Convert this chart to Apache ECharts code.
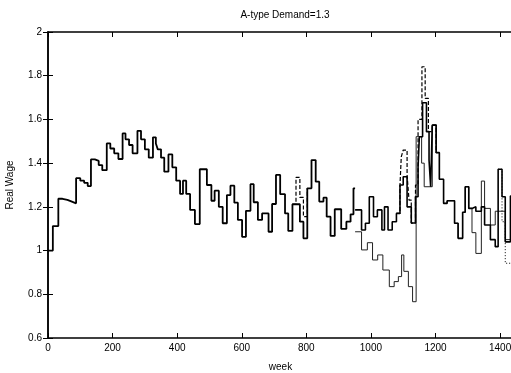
<!DOCTYPE html>
<html>
<head>
<meta charset="utf-8">
<script src="https://cdn.jsdelivr.net/npm/echarts@6/dist/echarts.min.js"></script>
<style>html,body{margin:0;padding:0;background:#fff}#chart{width:511px;height:373px}</style>
</head>
<body>
<div id="chart"></div>
<script>
// common path (all runs overlap), step value starts at given week
const weeksCommon = [0,15,32,45,60,72,87,100,112,123,133,145,157,168,182,193,205,218,231,240,251,262,277,288,300,312,325,334,340,350,360,373,385,397,409,418,428,440,455,470,492,506,516,529,541,554,565,577,588,601,613,627,637,650,663,683,694,706,719,734,744,757,780,791,803,816,829,840,853,863,875,888,908,924,937,946,951]
const wageCommon  = [1.0,1.112,1.237,1.232,1.225,1.216,1.331,1.32,1.31,1.295,1.417,1.41,1.391,1.368,1.49,1.467,1.445,1.419,1.536,1.509,1.483,1.445,1.548,1.509,1.463,1.425,1.518,1.49,1.463,1.425,1.361,1.44,1.381,1.32,1.259,1.32,1.259,1.186,1.121,1.372,1.30,1.228,1.274,1.20,1.125,1.254,1.297,1.219,1.14,1.063,1.182,1.304,1.221,1.14,1.17,1.086,1.213,1.346,1.258,1.17,1.09,1.212,1.132,1.056,1.285,1.414,1.315,1.224,1.242,1.155,1.067,1.189,1.099,1.132,1.166,1.285,1.285]

// short dashed excursion
const weeksDashEarly = [757,768,780,791,803]
const wageDashEarly  = [1.212,1.335,1.243,1.155,1.285]

// tails after the runs split
const weeksThick = [951,971,983,995,1008,1020,1034,1042,1053,1066,1079,1090,1100,1112,1125,1138,1146,1150,1160,1172,1180,1185,1190,1202,1212,1225,1236,1259,1270,1284,1292,1303,1313,1325,1342,1352,1370,1385,1394,1406,1416,1432,1440]
const wageThick  = [1.186,1.094,1.125,1.246,1.155,1.186,1.094,1.20,1.094,1.132,1.17,1.30,1.338,1.20,1.126,1.246,1.384,1.521,1.676,1.544,1.414,1.292,1.574,1.448,1.326,1.216,1.228,1.125,1.056,1.175,1.292,1.193,1.20,1.18,1.20,1.117,1.05,1.018,1.372,1.246,1.04,1.25,1.25]

const weeksThin = [951,971,989,1005,1021,1037,1057,1072,1085,1095,1102,1116,1129,1140,1157,1165,1180,1190,1202,1212,1225,1236,1259,1270,1284,1292,1303,1313,1325,1342,1352,1370,1385,1406,1416,1440]
const wageThin  = [1.086,1.003,1.036,0.957,0.98,0.911,0.835,0.858,0.881,0.98,0.905,0.835,0.766,1.521,1.40,1.292,1.292,1.574,1.448,1.326,1.216,1.228,1.125,1.056,1.175,1.292,1.193,1.082,0.987,1.318,1.193,1.117,1.18,1.18,1.05,1.05]

const weeksDash = [1079,1090,1094,1100,1112,1118,1125,1138,1146,1158,1168,1178,1190,1202]
const wageDash  = [1.17,1.30,1.429,1.46,1.346,1.231,1.126,1.30,1.60,1.841,1.696,1.544,1.574,1.448]

const weeksDot = [1394,1406,1416,1440]
const wageDot  = [1.372,1.132,0.942,0.942]

const pairs = (w, v) => w.map((x, i) => [x, v[i]])
const font = 'Liberation Sans, Arial, sans-serif'

const chart = echarts.init(document.getElementById('chart'), null, {renderer: 'canvas'})
const xBase = {
  type: 'value', min: 0, max: 1440, interval: 200,
  axisLine: {lineStyle: {color: '#000', width: 1.5}},
  axisTick: {inside: true, length: 5, lineStyle: {color: '#000'}},
  splitLine: {show: false}
}
const yBase = {
  type: 'value', min: 0.6, max: 2, interval: 0.2,
  axisLine: {show: true, lineStyle: {color: '#000', width: 1.5}},
  axisTick: {show: true, inside: true, length: 5, lineStyle: {color: '#000'}},
  splitLine: {show: false}
}
const line = (data, style, z) => ({
  type: 'line', step: 'end', data, showSymbol: false, animation: false, z,
  lineStyle: style
})

chart.setOption({
  animation: false,
  title: {
    text: 'A-type Demand=1.3', left: 280, top: 5, textAlign: 'center',
    textStyle: {fontFamily: font, fontSize: 10, fontWeight: 'normal', color: '#000'}
  },
  grid: {left: 48, top: 32, width: 465, height: 306, outerBoundsMode: 'none', containLabel: false},
  xAxis: [
    Object.assign({}, xBase, {
      position: 'bottom',
      name: 'week', nameLocation: 'middle', nameGap: 24,
      nameTextStyle: {fontFamily: font, fontSize: 10, color: '#000'},
      axisLabel: {fontFamily: font, fontSize: 10, color: '#000', margin: 5, showMaxLabel: false,
        formatter: v => String(v)}
    }),
    Object.assign({}, xBase, {position: 'top', axisLabel: {show: false}})
  ],
  yAxis: [
    Object.assign({}, yBase, {
      position: 'left',
      name: 'Real Wage', nameLocation: 'middle', nameGap: 33, nameRotate: 90,
      nameTextStyle: {fontFamily: font, fontSize: 10, color: '#000'},
      axisLabel: {fontFamily: font, fontSize: 10, color: '#000', margin: 6}
    }),
    Object.assign({}, yBase, {position: 'right', axisLabel: {show: false}})
  ],
  series: [
    line(pairs(weeksThin, wageThin), {color: '#222', width: 1}, 2),
    line(pairs(weeksDot, wageDot), {color: '#000', width: 1, type: [1, 2]}, 3),
    line(pairs(weeksDash, wageDash), {color: '#000', width: 1.2, type: [4, 2]}, 3),
    line(pairs(weeksDashEarly, wageDashEarly), {color: '#000', width: 1.2, type: [4, 2]}, 3),
    line(pairs(weeksThick, wageThick), {color: '#000', width: 1.6}, 4),
    line(pairs(weeksCommon, wageCommon), {color: '#000', width: 1.8}, 5)
  ]
})
</script>
</body>
</html>
